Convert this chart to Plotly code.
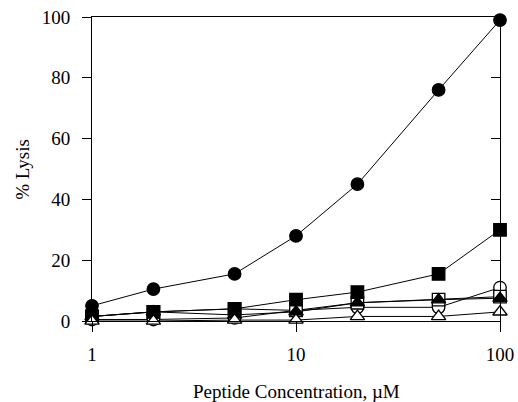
import plotly.graph_objects as go

conc = [1, 2, 5, 10, 20, 50, 100]
filled_circle = [5, 10.5, 15.5, 28, 45, 76, 99]
filled_square = [1.5, 3, 4, 7, 9.5, 15.5, 30]
open_square = [1.5, 3, 4, 3.5, 6, 7, 8]
filled_triangle = [1.5, 3, 2, 3, 6, 7, 7.5]
open_circle = [0.5, 0.5, 1, 3.5, 4.5, 4.5, 11]
open_triangle = [0, 0, 0.3, 0.3, 1.5, 1.5, 3]

y_ticks = [0, 20, 40, 60, 80, 100]
x_ticks = [1, 10, 100]

series = [
    (open_circle, "circle", "white"),
    (open_square, "square", "white"),
    (filled_triangle, "triangle-up", "black"),
    (filled_square, "square", "black"),
    (filled_circle, "circle", "black"),
    (open_triangle, "triangle-up", "white"),
]

fig = go.Figure()
for ys, sym, fill in series:
    fig.add_trace(go.Scatter(
        x=conc, y=ys, mode="lines+markers",
        line=dict(color="black", width=1),
        marker=dict(symbol=sym, size=12.5, color=fill,
                    line=dict(color="black", width=1.3)),
        cliponaxis=False, showlegend=False,
    ))

fig.add_trace(go.Scatter(x=[1], y=[0], yaxis="y2", mode="markers",
                         marker=dict(opacity=0), showlegend=False, hoverinfo="skip"))

font = dict(family="Liberation Serif, Times New Roman, serif", size=19, color="black")

fig.update_layout(
    width=518, height=402,
    margin=dict(l=92, r=18, t=17, b=81),
    paper_bgcolor="white", plot_bgcolor="white",
    font=font,
    xaxis=dict(
        type="log", range=[0, 2], tickvals=x_ticks, ticktext=[str(v) for v in x_ticks],
        ticks="outside", ticklen=10, tickwidth=1, tickcolor="black",
        showline=True, linecolor="black", linewidth=1, mirror=True,
        showgrid=False, zeroline=False, automargin=False,
        ticklabelstandoff=6,
    ),
    yaxis=dict(
        range=[0, 100], tickvals=y_ticks,
        ticks="outside", ticklen=9, tickwidth=1, tickcolor="black",
        showline=True, linecolor="black", linewidth=1,
        showgrid=False, zeroline=False, automargin=False,
        ticklabelstandoff=8,
    ),
    yaxis2=dict(
        overlaying="y", side="right", range=[0, 100], tickvals=y_ticks,
        ticks="inside", ticklen=9, tickwidth=1, tickcolor="black",
        showticklabels=False, showline=True, linecolor="black", linewidth=1,
        showgrid=False, zeroline=False, automargin=False,
    ),
    annotations=[
        dict(text="Peptide Concentration, \u00b5M", xref="paper", yref="paper",
             x=0.5, y=-0.232, xanchor="center", yanchor="middle",
             showarrow=False, font=font),
        dict(text="% Lysis", xref="paper", yref="paper",
             x=-0.172, y=0.5, xanchor="center", yanchor="middle",
             textangle=-90, showarrow=False, font=font),
    ],
)

fig.write_html("out.html", config={"displayModeBar": False},
               post_script="document.body.style.margin='0';document.body.style.overflow='hidden';")
